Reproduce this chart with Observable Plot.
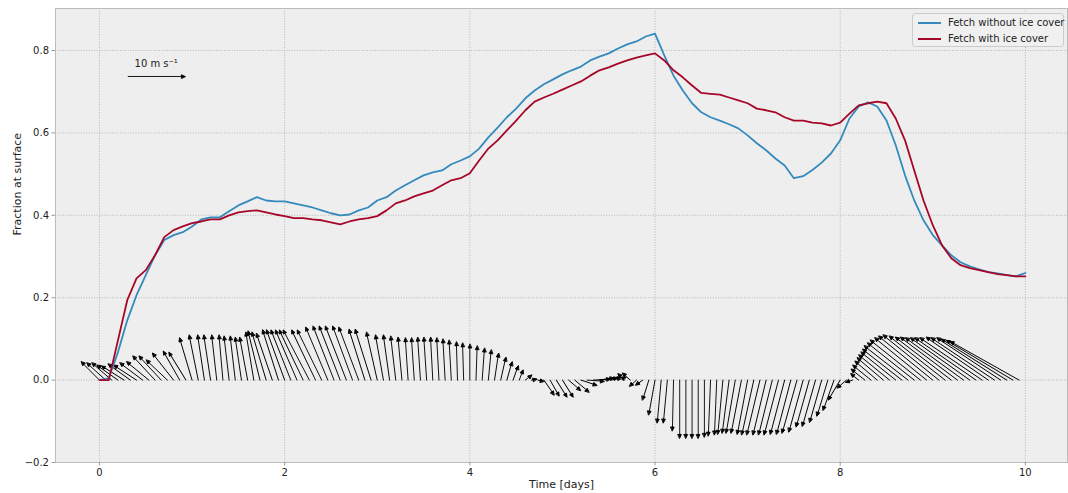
<!DOCTYPE html>
<html><head><meta charset="utf-8">
<script src="https://cdn.jsdelivr.net/npm/d3@7"></script>
<script src="https://cdn.jsdelivr.net/npm/@observablehq/plot@0.6"></script>
<style>
body{margin:0;background:#fff;}
#wrap{position:relative;width:1068px;height:493px;font-family:"DejaVu Sans",sans-serif;}
#legend{position:absolute;left:912px;top:13px;width:152px;height:34px;box-sizing:border-box;background:#f0f0f0;border:1px solid #cccccc;border-radius:3px;font-size:10px;color:#222;}
.item{position:absolute;left:5px;height:12px;display:flex;align-items:center;white-space:nowrap;}
.sw{width:23px;height:2px;margin-right:7px;}
</style></head><body><div id="wrap"><div id="legend"></div></div>
<script>
// ---- data ----
const seriesNames = ["Fetch without ice cover", "Fetch with ice cover"];
const seriesColors = ["#348ABD", "#A60628"];
const lineStep = 0.1; // days between samples
const fetchNoIce = [
  0, 0.005, 0.068, 0.145, 0.206, 0.255, 0.303, 0.34, 0.352, 0.359,
  0.373, 0.39, 0.395, 0.395, 0.41, 0.424, 0.434, 0.444, 0.436, 0.434,
  0.434, 0.429, 0.424, 0.419, 0.412, 0.405, 0.40, 0.402, 0.412, 0.419,
  0.436, 0.444, 0.46, 0.473, 0.485, 0.497, 0.504, 0.509, 0.524, 0.533,
  0.543, 0.562, 0.589, 0.613, 0.638, 0.659, 0.684, 0.703, 0.718, 0.73,
  0.742, 0.752, 0.761, 0.776, 0.785, 0.793, 0.805, 0.815, 0.822, 0.834,
  0.841, 0.788, 0.739, 0.703, 0.672, 0.65, 0.638, 0.63, 0.621, 0.611,
  0.594, 0.575, 0.558, 0.538, 0.521, 0.49, 0.495, 0.51, 0.528, 0.55,
  0.582, 0.635, 0.664, 0.674, 0.664, 0.63, 0.57, 0.497, 0.436, 0.388,
  0.352, 0.327, 0.303, 0.286, 0.276, 0.269, 0.262, 0.259, 0.255, 0.252,
  0.26
];
const fetchIce = [
  0, 0.0, 0.097, 0.194, 0.247, 0.267, 0.303, 0.347, 0.364, 0.373,
  0.381, 0.385, 0.39, 0.39, 0.40, 0.407, 0.41, 0.412, 0.407, 0.402,
  0.398, 0.393, 0.393, 0.39, 0.388, 0.383, 0.378, 0.385, 0.39, 0.393,
  0.398, 0.412, 0.429, 0.436, 0.446, 0.453, 0.46, 0.473, 0.485, 0.49,
  0.502, 0.533, 0.562, 0.582, 0.606, 0.63, 0.655, 0.676, 0.686, 0.695,
  0.705, 0.715, 0.725, 0.739, 0.752, 0.759, 0.768, 0.776, 0.783, 0.788,
  0.793, 0.776, 0.752, 0.735, 0.715, 0.697, 0.695, 0.693, 0.686, 0.679,
  0.672, 0.659, 0.655, 0.65, 0.638, 0.63, 0.63, 0.625, 0.623, 0.618,
  0.625, 0.647, 0.667, 0.672, 0.676, 0.672, 0.635, 0.582, 0.509, 0.436,
  0.376, 0.327, 0.296, 0.279, 0.272, 0.267, 0.262, 0.257, 0.255, 0.252,
  0.252
];
const windStep = 1 / 15; // days between wind arrows
const windU = [
  -3.2,-3.3,-3.5,-3.7,-4.0,-3.9,-4.0,-4.0,-3.9,-3.9,
  -3.9,-3.7,-3.7,-2.9,-3.0,-2.2,-1.6,-1.2,-1.2,-0.9,
  -0.7,-0.9,-0.9,-1.1,-1.4,-1.4,-2.1,-2.5,-2.8,-2.8,
  -3.2,-3.5,-3.8,-4.2,-4.6,-4.2,-4.3,-3.9,-3.7,-3.7,
  -3.7,-3.5,-3.5,-2.8,-2.8,-1.9,-1.4,-1.1,-0.9,-0.7,
  -0.5,-0.5,-0.5,-0.5,-0.4,-0.4,-0.4,-0.4,-0.2,-0.2,
  0.0,0.2,0.4,0.5,0.7,0.9,0.9,0.9,0.7,1.1,
  0.9,1.1,1.8,1.6,1.9,1.9,2.1,2.5,2.8,3.0,
  3.0,2.5,2.1,1.6,1.4,-1.1,-1.4,-1.2,-1.2,-1.1,
  -1.1,-0.7,-0.7,-0.2,0.0,0.0,0.0,0.0,0.0,-0.4,
  -0.4,-0.9,-1.2,-1.6,-1.8,-1.8,-2.1,-2.3,-2.3,-2.4,
  -2.5,-2.5,-2.5,-2.6,-2.5,-2.3,-2.3,-2.1,-1.9,-1.9,
  -2.1,-1.6,-1.2,-1.4,-2.4,-3.2,-3.9,-4.6,-5.4,-6.1,
  -6.9,-7.7,-8.2,-8.8,-9.1,-9.5,-9.8,-9.8,-9.8,-10.0,
  -10.2,-10.4,-10.7,-10.9,-10.9,-11.1,-11.2,-11.5,-11.7,-12.1
];
const windV = [
  3.2,3.0,3.0,2.6,2.5,2.8,2.6,3.0,3.2,4.2,
  4.2,3.5,4.7,5.1,4.9,7.4,7.9,7.9,7.9,7.9,
  7.9,7.7,7.7,7.5,7.5,8.4,8.6,8.4,8.2,8.8,
  8.8,8.8,8.8,8.8,8.8,8.8,8.8,9.3,9.5,9.5,
  9.5,9.5,9.3,8.9,8.9,8.4,7.9,7.9,7.7,7.5,
  7.4,7.4,7.5,7.5,7.5,7.4,7.2,7.0,6.7,6.5,
  6.3,6.0,5.6,5.3,4.7,4.0,3.2,2.5,1.8,0.9,
  0.2,-0.2,-2.6,-2.8,-3.0,-3.0,-1.8,-2.1,-0.9,-0.2,
  0.2,0.4,0.4,0.5,0.5,1.1,1.2,-1.1,-0.9,-3.5,
  -6.1,-7.5,-7.5,-8.9,-10.2,-10.2,-10.2,-10.2,-10.0,-9.8,
  -9.6,-9.5,-9.3,-9.3,-9.3,-9.5,-9.6,-9.6,-9.6,-9.6,
  -9.6,-9.5,-9.5,-9.3,-9.1,-8.2,-8.1,-7.4,-6.3,-5.3,
  -3.5,-1.4,-0.4,1.1,1.9,2.6,3.3,3.9,4.4,4.9,
  5.4,6.0,6.5,7.0,7.4,7.7,7.9,7.7,7.5,7.5,
  7.4,7.4,7.4,7.4,7.5,7.4,7.4,7.2,7.0,6.8
];
const quiverKey = {t: 0.31, y: 0.737, speed: 10, label: "10 m s\u207B\u00B9"};
const xTicks = [0, 2, 4, 6, 8, 10];
const yTicks = [-0.2, 0.0, 0.2, 0.4, 0.6, 0.8];
const xLabel = "Time [days]";
const yLabel = "Fraction at surface";

// ---- tables ----
const lines = [];
[fetchNoIce, fetchIce].forEach((arr, k) => arr.forEach((v, i) => lines.push({series: seriesNames[k], t: +(i * lineStep).toFixed(3), value: v})));
const wind = windU.map((u, i) => {
  const v = windV[i];
  return {t: i * windStep, base: 0, speed: Math.hypot(u, v), dir: Math.atan2(u, v) * 180 / Math.PI};
});

const quiverShape = {
  draw(context, l) {
    const h = Math.min(3.8, l), w = 1.7;
    context.moveTo(0, 0);
    context.lineTo(0, -l + h * 0.8);
    context.moveTo(0, -l);
    context.lineTo(-w, -l + h);
    context.lineTo(w, -l + h);
    context.closePath();
  }
};

const chart = Plot.plot({
  width: 1068, height: 493,
  marginLeft: 55, marginRight: 1, marginTop: 8, marginBottom: 31,
  style: {fontFamily: "DejaVu Sans, sans-serif", fontSize: "10px", background: "transparent", color: "#222"},
  x: {domain: [-0.475, 10.455]},
  y: {domain: [-0.2, 0.902]},
  length: {domain: [0, 10], range: [0, 57]},
  color: {domain: seriesNames, range: seriesColors},
  marks: [
    Plot.frame({fill: "#eeeeee"}),
    Plot.ruleX(xTicks, {stroke: "#aaaaaa", strokeWidth: 0.8, strokeDasharray: "1,1.6"}),
    Plot.ruleY(yTicks, {stroke: "#aaaaaa", strokeWidth: 0.8, strokeDasharray: "1,1.6"}),
    Plot.vector(wind, {x: "t", y: "base", length: "speed", rotate: "dir", anchor: "start", shape: quiverShape, stroke: "black", fill: "black", strokeWidth: 0.9}),
    Plot.line(lines, {x: "t", y: "value", stroke: "series", z: "series", strokeWidth: 1.8}),
    Plot.vector([quiverKey], {x: "t", y: "y", length: "speed", rotate: 90, anchor: "start", shape: quiverShape, stroke: "black", fill: "black", strokeWidth: 0.9}),
    Plot.text([quiverKey], {x: "t", y: "y", text: "label", dx: 28, dy: -13, textAnchor: "middle", fill: "#222"}),
    Plot.frame({stroke: "#bcbcbc"}),
    Plot.axisX(xTicks, {tickSize: 3.5, tickPadding: 3, stroke: "#999", fill: "#222", label: null, tickFormat: d => String(d)}),
    Plot.axisY(yTicks, {tickSize: 3.5, tickPadding: 3, stroke: "#999", fill: "#222", label: null, tickFormat: d3.format(".1f")}),
    Plot.text([xLabel], {frameAnchor: "bottom", dy: 22, fontSize: 11, fill: "#222", lineAnchor: "middle"}),
    Plot.text([yLabel], {frameAnchor: "left", dx: -38, rotate: -90, fontSize: 11, fill: "#222"})
  ]
});
const wrap = document.getElementById("wrap");
wrap.insertBefore(chart, wrap.firstChild);

const legend = document.getElementById("legend");
seriesNames.forEach((name, k) => {
  const item = document.createElement("div");
  item.className = "item";
  item.style.top = (2.5 + k * 16) + "px";
  item.innerHTML = `<span class="sw" style="background:${seriesColors[k]}"></span><span>${name}</span>`;
  legend.appendChild(item);
});
</script></body></html>
